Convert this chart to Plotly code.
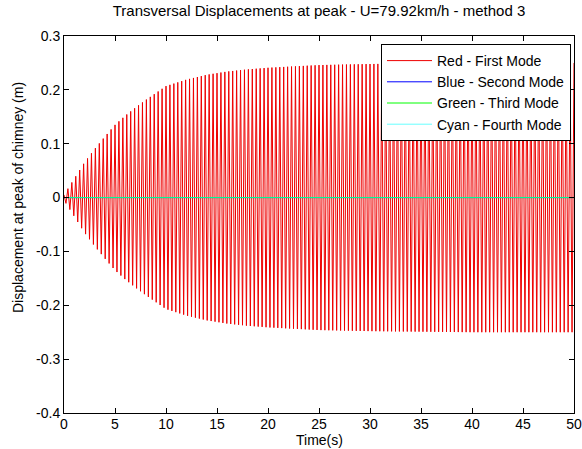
import numpy as np
import plotly.graph_objects as go

# Envelope of the first-mode response (time s, amplitude m)
env_time = [0, 1, 2, 3, 4, 5, 6, 7, 8, 9, 10, 12, 14, 16, 18, 20, 25, 30, 35, 40, 45, 50]
env_amp = [0.005, 0.035, 0.065, 0.09, 0.113, 0.135, 0.152, 0.167, 0.181, 0.194, 0.207,
           0.219, 0.228, 0.234, 0.238, 0.241, 0.246, 0.248, 0.249, 0.25, 0.25, 0.25]
# Oscillation frequency read from the peak count (Hz)
mode1_freq = 2.6

# Other modes stay at zero displacement
zero_time = [0, 50]
mode2_vals = [0, 0]
mode3_vals = [0, 0]
mode4_vals = [0, 0]

x_ticks = [0, 5, 10, 15, 20, 25, 30, 35, 40, 45, 50]
y_ticks = [-0.4, -0.3, -0.2, -0.1, 0, 0.1, 0.2, 0.3]
y_tick_text = ["-0.4", "-0.3", "-0.2", "-0.1", "0", "0.1", "0.2", "0.3"]

# Zig-zag through successive half-cycle peaks following the read envelope
half = 1.0 / (2 * mode1_freq)
n_half = int(50 / half)
peak_t = [k * half for k in range(n_half + 1)]
peak_v = [(-1) ** k * float(np.interp(t, env_time, env_amp)) for k, t in enumerate(peak_t)]

fig = go.Figure()
fig.add_trace(go.Scatter(x=peak_t, y=peak_v, mode="lines", name="Red - First Mode",
                         line=dict(color="#ee0000", width=1)))
fig.add_trace(go.Scatter(x=zero_time, y=mode2_vals, mode="lines", name="Blue - Second Mode",
                         line=dict(color="#0000ff", width=1)))
fig.add_trace(go.Scatter(x=zero_time, y=mode3_vals, mode="lines", name="Green - Third Mode",
                         line=dict(color="#00ff00", width=1)))
fig.add_trace(go.Scatter(x=zero_time, y=mode4_vals, mode="lines", name="Cyan - Fourth Mode",
                         line=dict(color="#00ffff", width=1), opacity=0.6))

font = "Liberation Sans, Arial, sans-serif"
W, H = 582, 449
L, R, T, B = 64, 8, 36, 36
pw, ph = W - L - R, H - T - B


def px_x(x):  # pixel -> paper x
    return (x - L) / pw


def px_y(y):  # pixel -> paper y
    return 1 - (y - T) / ph


fig.update_layout(
    width=W, height=H,
    margin=dict(l=L, r=R, t=T, b=B, autoexpand=False),
    paper_bgcolor="white", plot_bgcolor="white",
    font=dict(family=font, size=14, color="black"),
    title=dict(text="Transversal Displacements at peak - U=79.92km/h - method 3",
               xref="paper", x=0.5, xanchor="center",
               yref="container", y=1 - 11 / H, yanchor="middle",
               font=dict(size=15, color="black")),
    showlegend=True,
    legend=dict(x=px_x(571), y=px_y(44), xanchor="right", yanchor="top",
                bgcolor="white", bordercolor="black", borderwidth=1,
                font=dict(size=14), tracegroupgap=0, itemwidth=45),
    annotations=[
        dict(text="Displacement at peak of chimney (m)", textangle=-90,
             xref="paper", yref="paper", x=px_x(18), y=px_y(198),
             xanchor="center", yanchor="middle", showarrow=False,
             font=dict(size=14, color="black")),
        dict(text="Time(s)", xref="paper", yref="paper", x=0.5, y=px_y(440),
             xanchor="center", yanchor="middle", showarrow=False,
             font=dict(size=14, color="black")),
    ],
)
fig.update_xaxes(range=[0, 50], tickvals=x_ticks, ticks="inside", ticklen=5,
                 tickcolor="black", showline=True, linecolor="black", linewidth=1,
                 mirror="ticks", showgrid=False, zeroline=False, automargin=False,
                 ticklabelstandoff=-2)
fig.update_yaxes(range=[-0.4, 0.3], tickvals=y_ticks, ticktext=y_tick_text,
                 ticks="inside", ticklen=5, tickcolor="black", showline=True,
                 linecolor="black", linewidth=1, mirror="ticks", showgrid=False,
                 zeroline=False, automargin=False)

fig.write_html("out.html",
               config={"displayModeBar": False},
               post_script="document.body.style.margin='0';"
                           "document.body.style.overflow='hidden';")
